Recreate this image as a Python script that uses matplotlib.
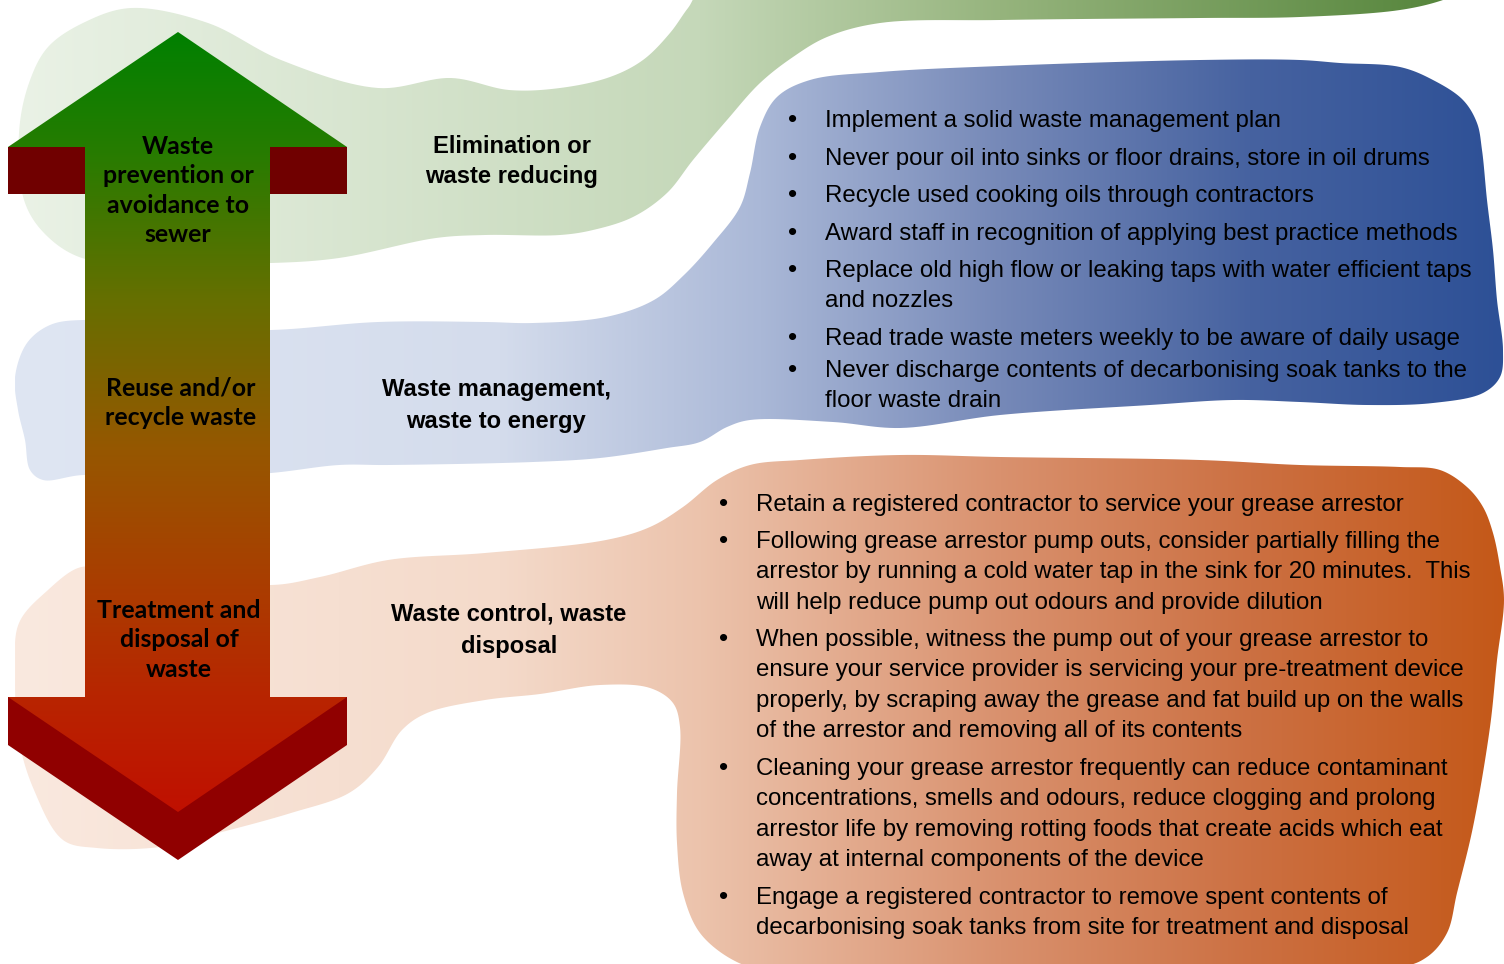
import numpy as np
import matplotlib
matplotlib.use("Agg")
import matplotlib.pyplot as plt
from matplotlib.path import Path
from matplotlib.patches import PathPatch, Polygon

# ---------------- content ----------------
arrow_labels = [
    ["Waste", "prevention or", "avoidance to", "sewer"],
    ["Reuse and/or", "recycle waste"],
    ["Treatment and", "disposal of", "waste"],
]
stage_labels = [
    ["Elimination or", "waste reducing"],
    ["Waste management,", "waste to energy"],
    ["Waste control, waste", "disposal"],
]
blue_items = [
    ["Implement a solid waste management plan"],
    ["Never pour oil into sinks or floor drains, store in oil drums"],
    ["Recycle used cooking oils through contractors"],
    ["Award staff in recognition of applying best practice methods"],
    ["Replace old high flow or leaking taps with water efficient taps", "and nozzles"],
    ["Read trade waste meters weekly to be aware of daily usage"],
    ["Never discharge contents of decarbonising soak tanks to the", "floor waste drain"],
]
orange_items = [
    ["Retain a registered contractor to service your grease arrestor"],
    ["Following grease arrestor pump outs, consider partially filling the",
     "arrestor by running a cold water tap in the sink for 20 minutes.  This",
     "will help reduce pump out odours and provide dilution"],
    ["When possible, witness the pump out of your grease arrestor to",
     "ensure your service provider is servicing your pre-treatment device",
     "properly, by scraping away the grease and fat build up on the walls",
     "of the arrestor and removing all of its contents"],
    ["Cleaning your grease arrestor frequently can reduce contaminant",
     "concentrations, smells and odours, reduce clogging and prolong",
     "arrestor life by removing rotting foods that create acids which eat",
     "away at internal components of the device"],
    ["Engage a registered contractor to remove spent contents of",
     "decarbonising soak tanks from site for treatment and disposal"],
]

# ---------------- layout ----------------
W, H = 1504, 964
fig = plt.figure(figsize=(15.04, 9.64), dpi=100)
ax = fig.add_axes([0, 0, 1, 1])
ax.axis('off')

green_outline = [(19, 133), (29, 83), (48, 47), (85, 22), (131, 8), (208, 23), (281, 60),
                 (378, 88), (451, 78), (509, 90), (560, 88), (610, 77), (643, 60), (670, 33),
                 (688, 8), (705, -12), (1470, -12), (1443, 0), (1400, 10), (1300, 17),
                 (1200, 18), (1000, 20), (880, 23), (827, 37), (793, 57), (760, 83),
                 (727, 120), (693, 160), (667, 193), (633, 217), (593, 230), (560, 235),
                 (485, 235), (436, 238), (339, 258), (271, 263), (160, 262), (82, 258),
                 (44, 233), (24, 200)]
blue_outline = [(15, 377), (27, 343), (50, 325), (83, 320), (180, 328), (271, 330),
                (378, 322), (485, 322), (533, 323), (606, 317), (654, 300), (684, 275),
                (713, 243), (740, 207), (750, 173), (760, 127), (777, 97), (810, 80),
                (880, 72), (1000, 66), (1200, 60), (1300, 60), (1340, 63), (1400, 67),
                (1433, 80), (1463, 100), (1477, 123), (1482, 150), (1487, 200), (1493, 250),
                (1497, 300), (1503, 350), (1500, 377), (1483, 393), (1433, 403), (1367, 405),
                (1300, 402), (1233, 400), (1150, 405), (1000, 415), (900, 428), (833, 422),
                (750, 420), (727, 427), (700, 442), (667, 448), (600, 458), (533, 462),
                (388, 465), (339, 465), (271, 473), (180, 478), (83, 475), (43, 480),
                (30, 470), (25, 440), (18, 410)]
orange_outline = [(15, 673), (19, 623), (48, 590), (78, 568), (100, 567), (180, 575),
                  (271, 585), (320, 577), (388, 560), (485, 553), (606, 540), (650, 527),
                  (683, 507), (717, 480), (750, 465), (800, 460), (900, 455), (1000, 457),
                  (1200, 460), (1300, 465), (1400, 467), (1440, 470), (1467, 487),
                  (1483, 507), (1493, 533), (1500, 567), (1504, 600), (1497, 660),
                  (1490, 727), (1473, 827), (1457, 893), (1447, 933), (1427, 957),
                  (1395, 968), (760, 968), (733, 960), (700, 933), (683, 893), (677, 843),
                  (677, 793), (680, 727), (673, 703), (650, 688), (600, 685), (540, 694),
                  (485, 700), (427, 713), (402, 730), (378, 767), (349, 793), (291, 813),
                  (218, 833), (160, 847), (97, 848), (63, 840), (34, 790), (19, 740)]

green_stops = [(19, (234, 242, 230)), (700, (197, 216, 185)), (1000, (150, 180, 125)),
               (1460, (84, 132, 58))]
blue_stops = [(15, (223, 230, 243)), (500, (212, 220, 236)), (760, (170, 184, 215)),
              (1000, (118, 137, 184)), (1250, (70, 98, 160)), (1503, (45, 80, 150))]
orange_stops = [(15, (250, 233, 223)), (500, (244, 218, 202)), (700, (236, 195, 172)),
                (1000, (217, 145, 110)), (1250, (204, 112, 66)), (1504, (196, 88, 24))]
arrow_stops = [(32, (0, 128, 0)), (150, (38, 124, 0)), (300, (102, 111, 0)),
               (450, (150, 87, 0)), (600, (172, 58, 0)), (700, (184, 36, 0)),
               (812, (192, 16, 0)), (860, (192, 16, 0))]


def catmull(points, n=14, alpha=0.5):
    P = np.array(points, float)
    N = len(P)
    out = []
    for i in range(N):
        p0, p1, p2, p3 = P[(i - 1) % N], P[i], P[(i + 1) % N], P[(i + 2) % N]
        t0 = 0.0
        t1 = t0 + max(np.linalg.norm(p1 - p0), 1e-6) ** alpha
        t2 = t1 + max(np.linalg.norm(p2 - p1), 1e-6) ** alpha
        t3 = t2 + max(np.linalg.norm(p3 - p2), 1e-6) ** alpha
        ts = np.linspace(t1, t2, n, endpoint=False)[:, None]
        A1 = (t1 - ts) / (t1 - t0) * p0 + (ts - t0) / (t1 - t0) * p1
        A2 = (t2 - ts) / (t2 - t1) * p1 + (ts - t1) / (t2 - t1) * p2
        A3 = (t3 - ts) / (t3 - t2) * p2 + (ts - t2) / (t3 - t2) * p3
        B1 = (t2 - ts) / (t2 - t0) * A1 + (ts - t0) / (t2 - t0) * A2
        B2 = (t3 - ts) / (t3 - t1) * A2 + (ts - t1) / (t3 - t1) * A3
        C = (t2 - ts) / (t2 - t1) * B1 + (ts - t1) / (t2 - t1) * B2
        out.append(C)
    return np.vstack(out)


def make_path(polys):
    verts, codes = [], []
    for poly in polys:
        poly = np.asarray(poly, float)
        verts.extend(poly.tolist())
        verts.append(poly[0].tolist())
        codes.extend([Path.MOVETO] + [Path.LINETO] * (len(poly) - 1) + [Path.CLOSEPOLY])
    return Path(verts, codes)


def grad_fill(polys, stops, direction, zorder):
    path = make_path(polys)
    patch = PathPatch(path, facecolor='none', edgecolor='none', zorder=zorder)
    ax.add_patch(patch)
    allv = np.vstack([np.asarray(p, float) for p in polys])
    xmin, ymin = allv.min(0)
    xmax, ymax = allv.max(0)
    pos = np.array([s[0] for s in stops], float)
    cols = np.array([s[1] for s in stops], float) / 255.0
    if direction == 'x':
        xs = np.linspace(xmin, xmax, 1024)
        rgb = np.stack([np.interp(xs, pos, cols[:, k]) for k in range(3)], -1)[None, :, :]
    else:
        ys = np.linspace(ymin, ymax, 1024)
        rgb = np.stack([np.interp(ys, pos, cols[:, k]) for k in range(3)], -1)[:, None, :]
    im = ax.imshow(rgb, extent=(xmin, xmax, ymax, ymin), origin='upper', aspect='auto',
                   interpolation='bilinear', zorder=zorder)
    im.set_clip_path(patch)


# blobs
grad_fill([catmull(green_outline)], green_stops, 'x', 1)
grad_fill([catmull(blue_outline)], blue_stops, 'x', 2)
grad_fill([catmull(orange_outline)], orange_stops, 'x', 3)

# double arrow
head_up = [(8, 147), (178, 32), (347, 147)]
shaft = [(85, 147), (270, 147), (270, 697), (85, 697)]
head_down = [(8, 697), (347, 697), (178, 812)]
chevron = [(8, 697), (347, 697), (347, 745), (178, 860), (8, 745)]
ax.add_patch(Polygon(chevron, closed=True, facecolor='#900000', edgecolor='none', zorder=4))
ax.add_patch(Polygon([(8, 147), (85, 147), (85, 194), (8, 194)], closed=True,
                     facecolor='#700000', edgecolor='none', zorder=4))
ax.add_patch(Polygon([(270, 147), (347, 147), (347, 194), (270, 194)], closed=True,
                     facecolor='#700000', edgecolor='none', zorder=4))
grad_fill([head_up, shaft, head_down], arrow_stops, 'y', 5)

# texts
arrow_pos = [(178, 146), (181, 388), (179, 610)]
for lines, (x, y0) in zip(arrow_labels, arrow_pos):
    for i, s in enumerate(lines):
        ax.text(x, y0 + i * 29.3 + 8, s, ha='center', va='baseline', fontsize=17.9,
                family='Lato', weight='bold', color='black', zorder=10)

stage_pos = [(512, 145, 30), (496, 388, 32), (509, 613, 32)]
for lines, (x, y0, dy) in zip(stage_labels, stage_pos):
    for i, s in enumerate(lines):
        ax.text(x, y0 + i * dy + 8, s, ha='center', va='baseline', fontsize=17.1,
                family='Liberation Sans', weight='bold', color='black', zorder=10)

blue_y = [119, 157, 194, 232, 269, 337, 369]
orange_y = [503, 540, 638, 767, 896]
LS = 30.3
for items, ys, xb, xt in [(blue_items, blue_y, 793, 825), (orange_items, orange_y, 724, 756)]:
    for lines, y0 in zip(items, ys):
        ax.text(xb, y0 + 8, "\u2022", ha='center', va='baseline', fontsize=19.0,
                family='Liberation Sans', color='black', zorder=10)
        for i, s in enumerate(lines):
            ax.text(xt, y0 + i * LS + 8, s, ha='left', va='baseline', fontsize=17.3,
                    family='Liberation Sans', color='black', zorder=10)

ax.set_xlim(0, W)
ax.set_ylim(H, 0)
fig.savefig("out.png", dpi=100, facecolor='white')
